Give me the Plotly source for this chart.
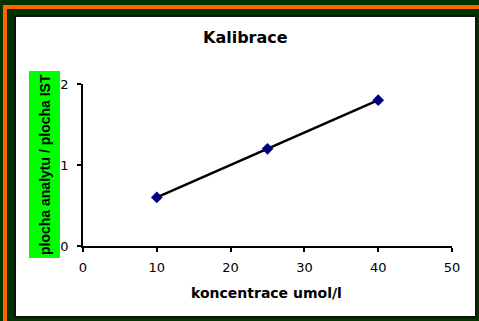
import plotly.graph_objects as go

# Calibration data: concentration (umol/l) vs analyte/IST peak-area ratio
koncentrace = [10, 25, 40]
pomer_ploch = [0.6, 1.2, 1.8]

x_ticks = [0, 10, 20, 30, 40, 50]
y_ticks = [0, 1, 2]

W, H = 479, 321
L, R, T, B = 83, 27, 84, 75          # plot-area margins (px)
PW, PH = W - L - R, H - T - B


def px_x(px):
    """Horizontal pixel position -> paper coordinate."""
    return (px - L) / PW


def px_y(py):
    """Vertical pixel position (from top) -> paper coordinate."""
    return (H - B - py) / PH


GREEN_BG = "#003300"
ORANGE = "#ff6600"

fig = go.Figure(
    go.Scatter(
        x=koncentrace,
        y=pomer_ploch,
        mode="lines+markers",
        line=dict(color="black", width=2.5),
        marker=dict(symbol="diamond", size=9, color="#000080",
                    line=dict(width=0)),
        showlegend=False,
        cliponaxis=False,
    )
)

shapes = [
    # orange frame lines
    dict(type="rect", xref="paper", yref="paper",
         x0=px_x(3), x1=px_x(W + 2), y0=px_y(5), y1=px_y(9),
         fillcolor=ORANGE, line=dict(width=0), layer="below"),
    dict(type="rect", xref="paper", yref="paper",
         x0=px_x(3), x1=px_x(7), y0=px_y(5), y1=px_y(H + 2),
         fillcolor=ORANGE, line=dict(width=0), layer="below"),
    # white chart panel
    dict(type="rect", xref="paper", yref="paper",
         x0=px_x(15), x1=px_x(476), y0=px_y(16), y1=px_y(317),
         fillcolor="white", line=dict(color="#111111", width=2),
         layer="below"),
    # bright green box behind the y-axis title
    dict(type="rect", xref="paper", yref="paper",
         x0=px_x(29), x1=px_x(60), y0=px_y(71), y1=px_y(258),
         fillcolor="#00ff00", line=dict(width=0), layer="below"),
]

annotations = [
    dict(text="<b>Kalibrace</b>", xref="paper", yref="paper",
         x=px_x(245.5), y=px_y(37), xanchor="center", yanchor="middle",
         showarrow=False,
         font=dict(family="DejaVu Sans", size=16, color="black")),
    dict(text="<b>koncentrace umol/l</b>", xref="paper", yref="paper",
         x=px_x(266), y=px_y(293), xanchor="center", yanchor="middle",
         showarrow=False,
         font=dict(family="DejaVu Sans", size=14, color="black")),
    dict(text="<b>plocha analytu / plocha IST</b>", xref="paper",
         yref="paper", x=px_x(45), y=px_y(165), xanchor="center",
         yanchor="middle", textangle=-90, showarrow=False,
         font=dict(family="Liberation Sans", size=14, color="black")),
]

fig.update_layout(
    width=W, height=H,
    margin=dict(l=L, r=R, t=T, b=B, pad=0),
    paper_bgcolor=GREEN_BG,
    plot_bgcolor="rgba(0,0,0,0)",
    shapes=shapes,
    annotations=annotations,
    xaxis=dict(
        range=[0, 50], tickvals=x_ticks, ticktext=[str(v) for v in x_ticks],
        showgrid=False, zeroline=False,
        showline=True, linecolor="black", linewidth=1.5,
        ticks="outside", ticklen=4, tickwidth=1.5, tickcolor="black",
        tickfont=dict(family="DejaVu Sans", size=13, color="black"),
        ticklabelstandoff=5,
        fixedrange=True,
    ),
    yaxis=dict(
        range=[0, 2], tickvals=y_ticks, ticktext=[str(v) for v in y_ticks],
        showgrid=False, zeroline=False,
        showline=True, linecolor="black", linewidth=1.5,
        ticks="outside", ticklen=4, tickwidth=1.5, tickcolor="black",
        tickfont=dict(family="DejaVu Sans", size=13, color="black"),
        ticklabelstandoff=6,
        fixedrange=True,
    ),
)

fig.write_html("out.html", config={"displayModeBar": False})
